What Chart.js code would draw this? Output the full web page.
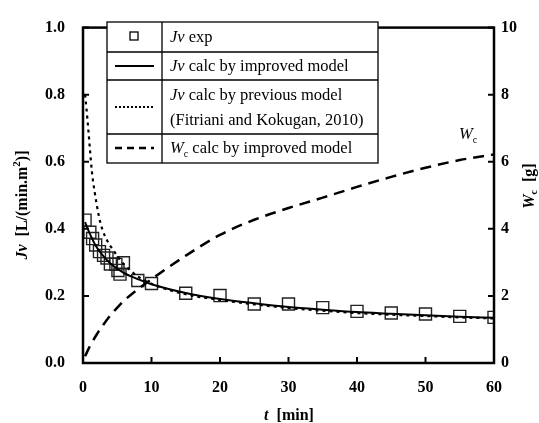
<!DOCTYPE html>
<html>
<head>
<meta charset="utf-8">
<script src="https://cdn.jsdelivr.net/npm/chart.js@4.4.1/dist/chart.umd.min.js"></script>
<style>
  html, body { margin: 0; padding: 0; background: #fff; }
  #wrap { width: 539px; height: 423px; position: relative; }
</style>
</head>
<body>
<div id="wrap"><canvas id="c" width="539" height="423"></canvas></div>
<script>
// ---- data ----
const tExp  = [0.3, 1.0, 1.4, 1.85, 2.4, 3.0, 3.5, 4.0, 4.8, 5.1, 5.4, 5.9, 8, 10, 15, 20, 25, 30, 35, 40, 45, 50, 55, 60];
const jvExp = [0.426, 0.390, 0.371, 0.352, 0.332, 0.321, 0.313, 0.295, 0.294, 0.276, 0.265, 0.299, 0.246, 0.237, 0.208, 0.201, 0.176, 0.176, 0.165, 0.154, 0.149, 0.146, 0.139, 0.136];

const tImproved  = [0.3, 1, 2, 3, 4, 5, 6, 8, 10, 15, 20, 25, 30, 35, 40, 45, 50, 55, 60];
const jvImproved = [0.42, 0.385, 0.345, 0.318, 0.297, 0.281, 0.268, 0.25, 0.235, 0.209, 0.191, 0.178, 0.167, 0.159, 0.152, 0.147, 0.142, 0.138, 0.135];

const tPrevious  = [0.3, 0.5, 0.8, 1, 1.3, 1.7, 2.3, 2.8, 3.5, 4.4, 5.4, 6.7, 8, 10, 15, 20, 25, 30, 35, 40, 45, 50, 55, 60];
const jvPrevious = [0.8, 0.76, 0.69, 0.64, 0.57, 0.51, 0.44, 0.40, 0.366, 0.337, 0.308, 0.28, 0.258, 0.236, 0.205, 0.188, 0.175, 0.164, 0.156, 0.149, 0.144, 0.14, 0.136, 0.133];

const tWc  = [0.3, 1, 2, 3, 4, 5, 6, 8, 10, 15, 20, 25, 30, 35, 40, 45, 50, 55, 60];
const wcImproved = [0.2, 0.5, 0.85, 1.15, 1.42, 1.65, 1.86, 2.2, 2.5, 3.2, 3.82, 4.27, 4.62, 4.93, 5.25, 5.55, 5.82, 6.05, 6.22];

const xTicks  = [0, 10, 20, 30, 40, 50, 60];
const yTicks  = [0, 0.2, 0.4, 0.6, 0.8, 1.0];
const y2Ticks = [0, 2, 4, 6, 8, 10];

const legendRows = ["exp", "calc by improved model", "calc by previous model", "(Fitriani and Kokugan, 2010)", "calc by improved model"];

const pts = (xs, ys) => xs.map((x, i) => ({ x: x, y: ys[i] }));

const SERIF = '"Liberation Serif", "Times New Roman", serif';

// draw a sequence of styled text pieces
function drawPieces(ctx, pieces, x, y, align) {
  let total = 0;
  pieces.forEach(p => { ctx.font = p.font; total += ctx.measureText(p.text).width; });
  let cx = align === 'center' ? x - total / 2 : x;
  pieces.forEach(p => {
    ctx.font = p.font;
    ctx.fillText(p.text, cx, y + (p.dy || 0));
    cx += ctx.measureText(p.text).width;
  });
}

const framePlugin = {
  id: 'frame',
  afterDatasetsDraw(chart) {
    const ctx = chart.ctx;
    const a = chart.chartArea;
    const sx = chart.scales.x, sy = chart.scales.y, sy2 = chart.scales.y2;
    ctx.save();
    ctx.strokeStyle = '#000';
    // ticks (inward)
    ctx.lineWidth = 2;
    ctx.beginPath();
    yTicks.forEach(v => { const p = sy.getPixelForValue(v); ctx.moveTo(a.left, p); ctx.lineTo(a.left + 6, p); });
    y2Ticks.forEach(v => { const p = sy2.getPixelForValue(v); ctx.moveTo(a.right, p); ctx.lineTo(a.right - 6, p); });
    xTicks.forEach(v => { const p = sx.getPixelForValue(v); ctx.moveTo(p, a.bottom); ctx.lineTo(p, a.bottom - 6); });
    ctx.stroke();
    // frame
    ctx.lineWidth = 2.5;
    ctx.strokeRect(a.left, a.top, a.right - a.left, a.bottom - a.top);
    ctx.restore();
  },
  afterDraw(chart) {
    const ctx = chart.ctx;
    ctx.save();
    ctx.fillStyle = '#000';
    ctx.textBaseline = 'alphabetic';
    const B = 'bold 16px ' + SERIF, BI = 'italic bold 16px ' + SERIF, BS = 'bold 11px ' + SERIF;
    // x title
    drawPieces(ctx, [{ text: 't', font: BI }, { text: '  [min]', font: B }], 289, 420, 'center');
    // left title
    ctx.save();
    ctx.translate(27, 205);
    ctx.rotate(-Math.PI / 2);
    drawPieces(ctx, [{ text: 'Jv', font: BI }, { text: '  [L/(min.m', font: B }, { text: '2', font: BS, dy: -7 }, { text: ')]', font: B }], 0, 0, 'center');
    ctx.restore();
    // right title
    ctx.save();
    ctx.translate(534, 186);
    ctx.rotate(-Math.PI / 2);
    drawPieces(ctx, [{ text: 'W', font: BI }, { text: 'c', font: 'bold 10px ' + SERIF, dy: 3 }, { text: '  [g]', font: B }], 0, 0, 'center');
    ctx.restore();
    // Wc annotation
    const R = '16.5px ' + SERIF, I = 'italic 16.5px ' + SERIF, S = '10px ' + SERIF;
    drawPieces(ctx, [{ text: 'W', font: I }, { text: 'c', font: S, dy: 4 }], 459, 139, 'left');

    // legend table
    const L = 107, M = 162, Rt = 378, rows = [22, 52, 80, 134, 163];
    ctx.strokeStyle = '#000';
    ctx.lineWidth = 1.3;
    ctx.fillStyle = '#fff';
    ctx.fillRect(L, rows[0], Rt - L, rows[4] - rows[0]);
    ctx.strokeRect(L, rows[0], Rt - L, rows[4] - rows[0]);
    ctx.beginPath();
    for (let i = 1; i < 4; i++) { ctx.moveTo(L, rows[i]); ctx.lineTo(Rt, rows[i]); }
    ctx.moveTo(M, rows[0]); ctx.lineTo(M, rows[4]);
    ctx.stroke();
    // symbols
    ctx.lineWidth = 1.3;
    ctx.strokeRect(130, 32, 8, 8);
    ctx.lineWidth = 2;
    ctx.beginPath(); ctx.moveTo(115, 66); ctx.lineTo(154, 66); ctx.stroke();
    ctx.setLineDash([2, 2]);
    ctx.beginPath(); ctx.moveTo(115, 107); ctx.lineTo(154, 107); ctx.stroke();
    ctx.setLineDash([7, 5]);
    ctx.lineWidth = 2.5;
    ctx.beginPath(); ctx.moveTo(115, 148); ctx.lineTo(154, 148); ctx.stroke();
    ctx.setLineDash([]);
    // texts
    ctx.fillStyle = '#000';
    const tx = 170;
    drawPieces(ctx, [{ text: 'Jv', font: I }, { text: ' ' + legendRows[0], font: R }], tx, 42, 'left');
    drawPieces(ctx, [{ text: 'Jv', font: I }, { text: ' ' + legendRows[1], font: R }], tx, 71, 'left');
    drawPieces(ctx, [{ text: 'Jv', font: I }, { text: ' ' + legendRows[2], font: R }], tx, 100, 'left');
    drawPieces(ctx, [{ text: legendRows[3], font: R }], tx, 125, 'left');
    drawPieces(ctx, [{ text: 'W', font: I }, { text: 'c', font: S, dy: 4 }, { text: ' ' + legendRows[4], font: R }], tx, 153, 'left');
    ctx.restore();
  }
};

const tickFont = { family: SERIF, size: 16, weight: 'bold' };

new Chart(document.getElementById('c'), {
  type: 'line',
  data: {
    datasets: [
      { label: 'Wc calc by improved model', data: pts(tWc, wcImproved), yAxisID: 'y2',
        borderColor: '#000', borderWidth: 2.5, borderDash: [11, 7], pointRadius: 0,
        cubicInterpolationMode: 'monotone', fill: false },
      { label: 'Jv calc by previous model', data: pts(tPrevious, jvPrevious), yAxisID: 'y',
        borderColor: '#000', borderWidth: 2.2, borderDash: [3, 4], pointRadius: 0,
        cubicInterpolationMode: 'monotone', fill: false },
      { label: 'Jv calc by improved model', data: pts(tImproved, jvImproved), yAxisID: 'y',
        borderColor: '#000', borderWidth: 2, pointRadius: 0,
        cubicInterpolationMode: 'monotone', fill: false },
      { label: 'Jv exp', data: pts(tExp, jvExp), yAxisID: 'y', showLine: false,
        pointStyle: 'rect', pointRadius: 8.5, pointBorderWidth: 1.4,
        pointBorderColor: '#222', pointBackgroundColor: 'rgba(0,0,0,0)' }
    ]
  },
  options: {
    responsive: false,
    animation: false,
    events: [],
    layout: { padding: { top: 18, left: 0, right: 0, bottom: 0 } },
    plugins: { legend: { display: false }, tooltip: { enabled: false } },
    scales: {
      x: {
        type: 'linear', min: 0, max: 60,
        afterBuildTicks: s => { s.ticks = xTicks.map(v => ({ value: v })); },
        afterFit: s => { s.height = 60; },
        grid: { display: false, drawTicks: false }, border: { display: false },
        ticks: { font: tickFont, color: '#000', padding: 15, maxRotation: 0 }
      },
      y: {
        position: 'left', min: 0, max: 1,
        afterBuildTicks: s => { s.ticks = yTicks.map(v => ({ value: v })); },
        afterFit: s => { s.width = 83; },
        grid: { display: false, drawTicks: false }, border: { display: false },
        ticks: { font: tickFont, color: '#000', padding: 18, callback: v => Number(v).toFixed(1) }
      },
      y2: {
        position: 'right', min: 0, max: 10,
        afterBuildTicks: s => { s.ticks = y2Ticks.map(v => ({ value: v })); },
        afterFit: s => { s.width = 45; },
        grid: { display: false, drawTicks: false }, border: { display: false },
        ticks: { font: tickFont, color: '#000', padding: 7, callback: v => String(v) }
      }
    }
  },
  plugins: [framePlugin]
});
</script>
</body>
</html>
